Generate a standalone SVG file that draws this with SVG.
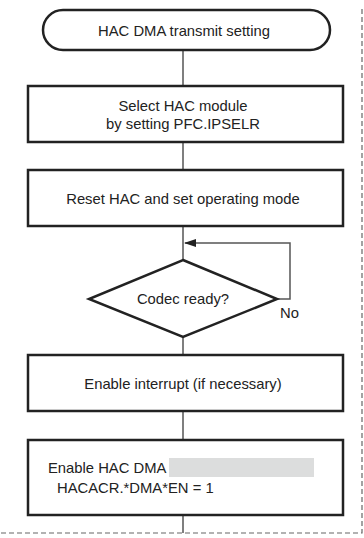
<svg xmlns="http://www.w3.org/2000/svg" width="364" height="538" viewBox="0 0 364 538">
<defs>
<style>
.box{fill:#fff;stroke:#222;stroke-width:2.5}
.ln{fill:none;stroke:#555;stroke-width:1.5}
.dash{fill:none;stroke:#666;stroke-width:1.2;stroke-dasharray:5 3}
text{font-family:"Liberation Sans",Arial,sans-serif;font-size:14.8px;fill:#222}
.c{text-anchor:middle}
</style>
<marker id="ah" markerWidth="12" markerHeight="8" refX="11" refY="4" orient="auto" markerUnits="userSpaceOnUse">
<path d="M0,0 L12,4 L0,8 Z" fill="#222"/>
</marker>
</defs>
<rect width="364" height="538" fill="#fff"/>
<g id="frame">
<path class="dash" d="M362,9 V533 H0"/>
</g>
<g id="connectors">
<line class="ln" x1="183" y1="50" x2="183" y2="86"/>
<line class="ln" x1="183" y1="142" x2="183" y2="170"/>
<line class="ln" x1="183" y1="226" x2="183" y2="260"/>
<line class="ln" x1="183" y1="337" x2="183" y2="355"/>
<line class="ln" x1="183" y1="411" x2="183" y2="440"/>
<line class="ln" x1="183" y1="515" x2="183" y2="533"/>
<path class="ln" d="M277,299 H290 V243 H185" marker-end="url(#ah)"/>
<text x="280" y="318">No</text>
</g>
<g id="start">
<rect class="box" x="43" y="10" width="287" height="40" rx="20" ry="20"/>
<text class="c" x="184" y="36">HAC DMA transmit setting</text>
</g>
<g id="select">
<rect class="box" x="28" y="86" width="315" height="56"/>
<text class="c" x="183" y="111">Select HAC module</text>
<text class="c" x="183" y="129">by setting PFC.IPSELR</text>
</g>
<g id="reset">
<rect class="box" x="28" y="170" width="315" height="56"/>
<text class="c" x="183" y="204">Reset HAC and set operating mode</text>
</g>
<g id="codec">
<polygon class="box" points="183,260 277,299 183,337 89,299"/>
<text class="c" x="183" y="304">Codec ready?</text>
</g>
<g id="interrupt">
<rect class="box" x="28" y="355" width="315" height="56"/>
<text class="c" x="183" y="389">Enable interrupt (if necessary)</text>
</g>
<g id="dma">
<rect class="box" x="28" y="440" width="315" height="75"/>
<rect x="169" y="458" width="145" height="19" fill="#dcdddd"/>
<text x="48" y="473">Enable HAC DMA</text>
<text x="57" y="493">HACACR.*DMA*EN = 1</text>
</g>
</svg>
